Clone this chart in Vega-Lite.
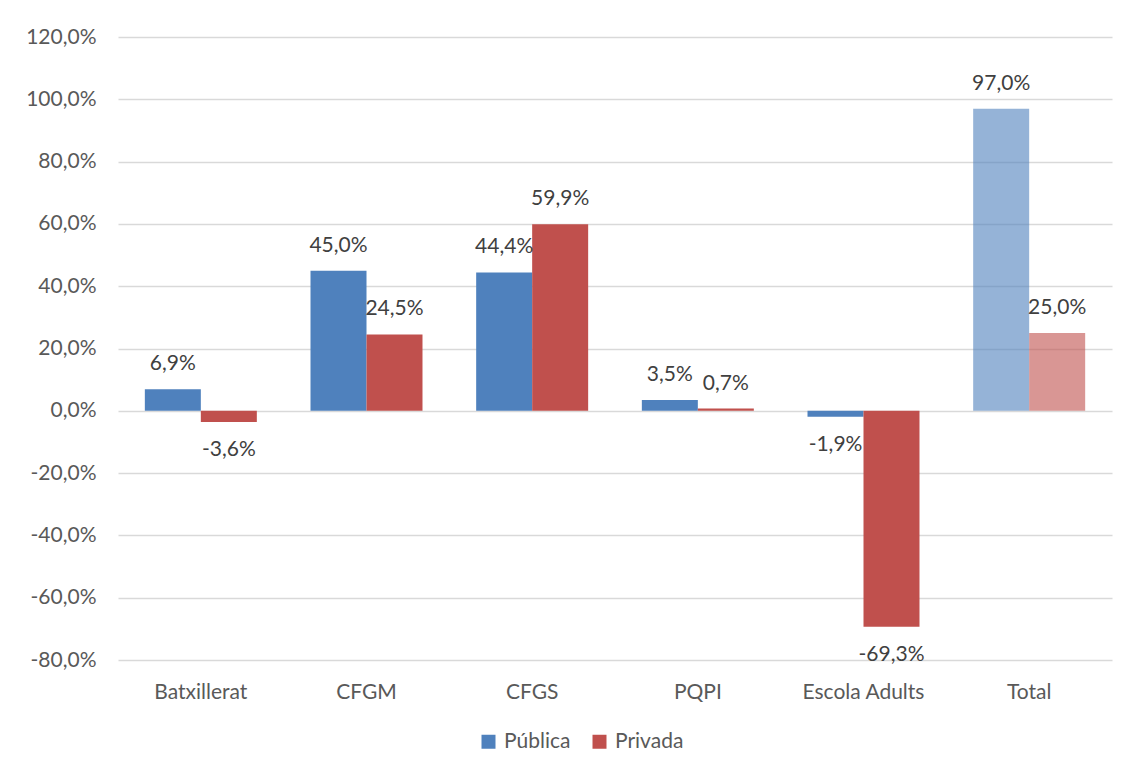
{
  "$schema": "https://vega.github.io/schema/vega-lite/v6.json",
  "width": 994,
  "height": 623,
  "autosize": {"type": "none"},
  "padding": {"left": 118, "top": 37, "right": 17, "bottom": 118},
  "background": "white",
  "config": {
    "locale": {"number": {"decimal": ",", "thousands": ".", "grouping": [3], "currency": ["", " €"], "minus": "-"}},
    "font": "Lato",
    "view": {"stroke": null}
  },
  "data": {
    "values": [
      {"categoria": "Batxillerat", "titularitat": "Pública", "valor": 0.069},
      {"categoria": "Batxillerat", "titularitat": "Privada", "valor": -0.036},
      {"categoria": "CFGM", "titularitat": "Pública", "valor": 0.450},
      {"categoria": "CFGM", "titularitat": "Privada", "valor": 0.245},
      {"categoria": "CFGS", "titularitat": "Pública", "valor": 0.444},
      {"categoria": "CFGS", "titularitat": "Privada", "valor": 0.599},
      {"categoria": "PQPI", "titularitat": "Pública", "valor": 0.035},
      {"categoria": "PQPI", "titularitat": "Privada", "valor": 0.007},
      {"categoria": "Escola Adults", "titularitat": "Pública", "valor": -0.019},
      {"categoria": "Escola Adults", "titularitat": "Privada", "valor": -0.693},
      {"categoria": "Total", "titularitat": "Pública", "valor": 0.970},
      {"categoria": "Total", "titularitat": "Privada", "valor": 0.250}
    ]
  },
  "encoding": {
    "x": {
      "field": "categoria",
      "type": "nominal",
      "sort": ["Batxillerat", "CFGM", "CFGS", "PQPI", "Escola Adults", "Total"],
      "scale": {"paddingInner": 0.324, "paddingOuter": 0.162},
      "axis": {
        "title": null, "labelAngle": 0, "domain": false, "ticks": false, "grid": false,
        "labelPadding": 21, "labelFontSize": 21, "labelColor": "#595959", "labelFont": "Lato"
      }
    },
    "xOffset": {
      "field": "titularitat",
      "sort": ["Pública", "Privada"],
      "scale": {"paddingInner": 0, "paddingOuter": 0}
    },
    "y": {
      "field": "valor",
      "type": "quantitative",
      "scale": {"domain": [-0.8, 1.2], "nice": false, "zero": false},
      "axis": {
        "title": null, "format": ".1%",
        "values": [-0.8, -0.6, -0.4, -0.2, 0, 0.2, 0.4, 0.6, 0.8, 1.0, 1.2],
        "domain": false, "ticks": false,
        "gridColor": "#D9D9D9", "gridWidth": 1.3,
        "labelPadding": 22, "labelFontSize": 21, "labelColor": "#595959", "labelFont": "Lato"
      }
    }
  },
  "layer": [
    {
      "mark": {"type": "bar"},
      "encoding": {
        "color": {
          "field": "titularitat",
          "type": "nominal",
          "sort": ["Pública", "Privada"],
          "scale": {"domain": ["Pública", "Privada"], "range": ["#4F81BD", "#C0504D"]},
          "legend": {
            "title": null, "orient": "none", "direction": "horizontal",
            "legendX": 360, "legendY": 694,
            "symbolType": "square", "symbolSize": 196, "symbolStrokeWidth": 0,
            "labelFontSize": 21, "labelColor": "#595959", "labelFont": "Lato",
            "labelOffset": 5, "columnPadding": 18
          }
        },
        "opacity": {"condition": {"test": "datum.categoria === 'Total'", "value": 0.6}, "value": 1}
      }
    },
    {
      "transform": [{"filter": "datum.valor >= 0"}],
      "mark": {"type": "text", "baseline": "middle", "dy": -25, "fontSize": 21, "color": "#404040", "font": "Lato"},
      "encoding": {"text": {"field": "valor", "type": "quantitative", "format": ".1%"}}
    },
    {
      "transform": [{"filter": "datum.valor < 0"}],
      "mark": {"type": "text", "baseline": "middle", "dy": 28, "fontSize": 21, "color": "#404040", "font": "Lato"},
      "encoding": {"text": {"field": "valor", "type": "quantitative", "format": ".1%"}}
    }
  ]
}
